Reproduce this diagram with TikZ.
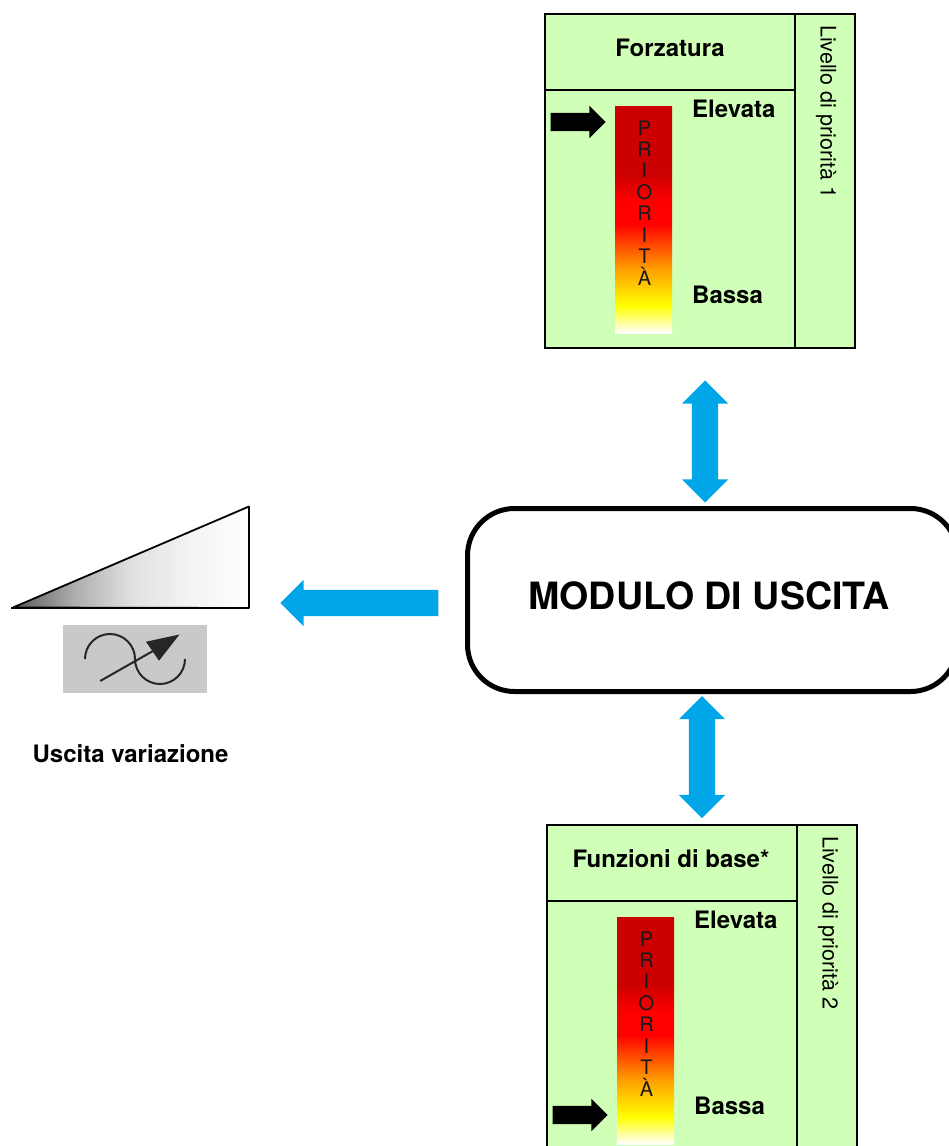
\documentclass[tikz,border=0pt]{standalone}
\usepackage{fontspec}
\setmainfont{TeX Gyre Heros}
\usetikzlibrary{shapes.arrows}
\definecolor{boxgreen}{HTML}{D0FFB8}
\definecolor{flowblue}{HTML}{00A6E8}
\definecolor{icongray}{HTML}{C8C9CB}
\definecolor{deepred}{HTML}{CC0000}
\definecolor{midorange}{HTML}{FFA000}
\pgfdeclareverticalshading{prioshade}{100bp}{
  color(0bp)=(white);
  color(25bp)=(white);
  color(31bp)=(yellow);
  color(39bp)=(midorange);
  color(49bp)=(red);
  color(54bp)=(red);
  color(60bp)=(deepred);
  color(75bp)=(deepred);
  color(100bp)=(deepred)}
\pgfdeclarehorizontalshading{rampshade}{100bp}{
  color(0bp)=(black!65);
  color(25bp)=(black!65);
  color(38bp)=(black!32);
  color(50bp)=(black!12);
  color(62bp)=(black!5);
  color(75bp)=(white);
  color(100bp)=(white)}
\tikzset{
  x=1pt,y=-1pt,
  panel/.style={draw=black,line width=2.2pt,fill=boxgreen},
  rule/.style={draw=black,line width=2.2pt},
  bar/.style={shading=prioshade},
  title/.style={font=\bfseries\fontsize{24}{26}\selectfont,inner sep=0pt},
  side/.style={font=\fontsize{21.5}{23}\selectfont,rotate=-90,anchor=west,inner sep=0pt},
  letter/.style={font=\fontsize{20}{21}\selectfont,inner sep=0pt,text=black!90},
  pointer/.style={single arrow,fill=black,draw=none,inner sep=9pt,minimum height=55pt,single arrow head extend=7pt,single arrow tip angle=90,minimum width=32pt,outer sep=0pt},
  flowone/.style={single arrow,fill=flowblue,draw=none,inner sep=13pt,minimum height=158pt,single arrow head extend=10pt,single arrow tip angle=90,minimum width=46pt,outer sep=0pt,shape border rotate=180},
  flowtwo/.style={double arrow,fill=flowblue,draw=none,inner sep=13pt,double arrow head extend=10pt,double arrow tip angle=90,minimum width=46pt,outer sep=0pt,shape border rotate=90},
}
\begin{document}
\begin{tikzpicture}
\useasboundingbox (0,0) rectangle (949,1146);
\clip (0,0) rectangle (949,1146);
% top panel
\path[panel] (545,14) rectangle (855,348);
\draw[rule] (795,14) -- (795,348);
\draw[rule] (545,90) -- (795,90);
\path[bar] (615,106) rectangle (672,333);
\node[title] (t1) at (670,48) {Forzatura};
\node[title,anchor=west] (e1) at (692,109) {Elevata};
\node[title,anchor=west] (b1) at (692,295) {Bassa};
\node[side] (s1) at (826,25) {Livello di priorità 1};
\foreach \l/\y [count=\i] in {P/128,R/149,I/170,O/192,R/213,I/235,T/256,À/276}
  \node[letter] (pa\i) at (644.5,\y) {\l};
\node[pointer] (m1) at (573.5,122) {};
% bottom panel
\path[panel] (547,825) rectangle (857,1160);
\draw[rule] (797,825) -- (797,1160);
\draw[rule] (547,901) -- (797,901);
\path[bar] (617,917) rectangle (674,1144);
\node[title] (t2) at (671,859) {Funzioni di base*};
\node[title,anchor=west] (e2) at (694,920) {Elevata};
\node[title,anchor=west] (b2) at (694,1106) {Bassa};
\node[side] (s2) at (828,836) {Livello di priorità 2};
\foreach \l/\y [count=\i] in {P/939,R/960,I/981,O/1003,R/1024,I/1046,T/1067,À/1087}
  \node[letter] (pb\i) at (646.5,\y) {\l};
\node[pointer] (m2) at (575.5,1115) {};
% module
\node[draw=black,line width=5pt,rounded corners=47pt,fill=white,minimum width=490pt,minimum height=183pt,anchor=west,inner sep=0pt] (mod) at (465,600) {};
\node[font=\bfseries\fontsize{37.6}{40}\selectfont,inner sep=0pt] (modt) at (709,596) {MODULO DI USCITA};
% flows
\node[flowone] (f0) at (366,603) {};
\node[flowtwo,minimum height=122pt] (f1) at (705,441.5) {};
\node[flowtwo,minimum height=122pt] (f2) at (702,757) {};
% ramp
\path[shading=rampshade] (13,608) -- (249,506) -- (249,608) -- cycle;
\draw[line width=1.8pt,line join=bevel] (13,607.5) -- (249,506.5) -- (249,608) -- cycle;
\draw[line width=2.4pt] (11,608) -- (249,608);
% icon
\node[fill=icongray,minimum width=144pt,minimum height=68pt,inner sep=0pt] (ic) at (135,659) {};
\draw[line width=2pt,draw=black!85] (85,659) arc[start angle=-180,end angle=0,radius=25];
\draw[line width=2pt,draw=black!85] (135,659) arc[start angle=180,end angle=0,radius=25];
\draw[line width=2pt,draw=black!85,line cap=round] (100.7,680.7) -- (160,647);
\fill[black!85] (179.5,634.5) -- (146,641.7) -- (159,660.7) -- cycle;
\node[title] (u) at (130.5,754) {Uscita variazione};
\end{tikzpicture}
\end{document}
